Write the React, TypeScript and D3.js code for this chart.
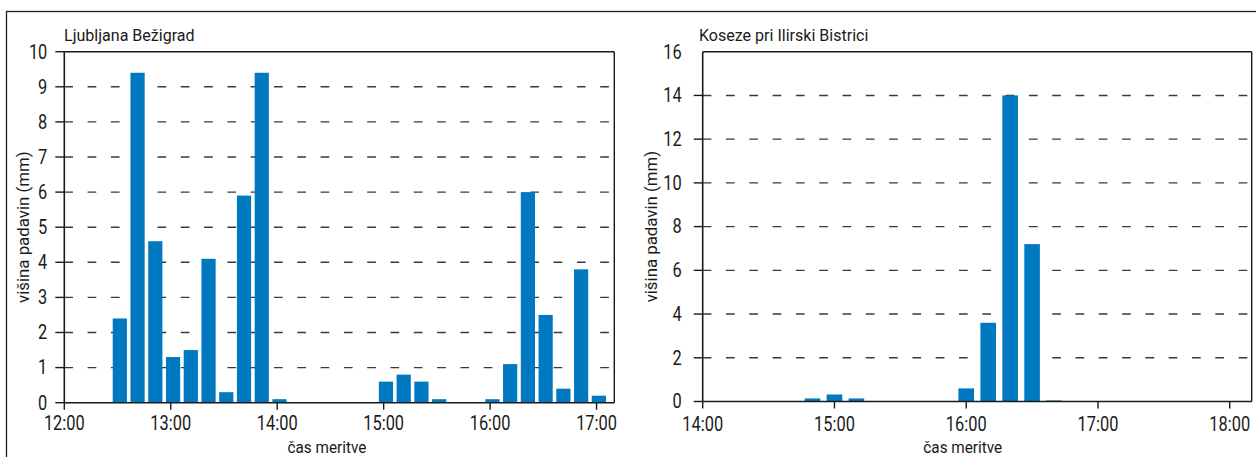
import React from 'react';
import * as d3 from 'd3';

// ---- data ----
const leftTitle = 'Ljubljana Bežigrad';
const rightTitle = 'Koseze pri Ilirski Bistrici';
const yAxisTitle = 'višina padavin (mm)';
const xAxisTitle = 'čas meritve';

const leftTimes = ['12:30', '12:40', '12:50', '13:00', '13:10', '13:20', '13:30', '13:40', '13:50', '14:00',
  '14:10', '14:20', '14:30', '14:40', '14:50', '15:00', '15:10', '15:20', '15:30', '15:40', '15:50',
  '16:00', '16:10', '16:20', '16:30', '16:40', '16:50', '17:00'];
const leftValues = [2.4, 9.4, 4.6, 1.3, 1.5, 4.1, 0.3, 5.9, 9.4, 0.1,
  0, 0, 0, 0, 0, 0.6, 0.8, 0.6, 0.1, 0, 0,
  0.1, 1.1, 6.0, 2.5, 0.4, 3.8, 0.2];
const leftYTicks = [0, 1, 2, 3, 4, 5, 6, 7, 8, 9, 10];
const leftXTicks = ['12:00', '13:00', '14:00', '15:00', '16:00', '17:00'];
const leftXDomain = ['12:00', '17:10'];

const rightTimes = ['14:50', '15:00', '15:10', '15:20', '15:30', '15:40', '15:50',
  '16:00', '16:10', '16:20', '16:30', '16:40'];
const rightValues = [0.14, 0.32, 0.14, 0, 0, 0, 0, 0.6, 3.6, 14.0, 7.2, 0.05];
const rightYTicks = [0, 2, 4, 6, 8, 10, 12, 14, 16];
const rightXTicks = ['14:00', '15:00', '16:00', '17:00', '18:00'];
const rightXDomain = ['14:00', '18:10'];

const FONT = "Roboto, 'Liberation Sans', sans-serif";
const BAR = '#0079c1';
const INK = '#1a1a1a';

const toMin = (s: string) => {
  const [h, m] = s.split(':').map(Number);
  return h * 60 + m;
};

function T(props: { x: number; y: number; size: number; sx: number; anchor?: string; rotate?: boolean; children: any }) {
  const tr = `translate(${props.x},${props.y})${props.rotate ? ' rotate(-90)' : ''} scale(${props.sx},1)`;
  return (
    <text transform={tr} textAnchor={props.anchor || 'start'} fontSize={props.size} fill={INK}>
      {props.children}
    </text>
  );
}

type PanelProps = {
  title: string;
  times: string[];
  values: number[];
  yTicks: number[];
  xTicks: string[];
  xDomain: string[];
  box: { x0: number; x1: number; y0: number; y1: number };
  barWidth: number;
  barOffset: number;
  labelGap: number;
  topTick: boolean;
  yTitleX: number;
  titleX: number;
  xLabelDy: number;
};

function Panel(p: PanelProps) {
  const { x0, x1, y0, y1 } = p.box;
  const xs = d3.scaleLinear().domain([toMin(p.xDomain[0]), toMin(p.xDomain[1])]).range([x0, x1]);
  const yMax = p.yTicks[p.yTicks.length - 1];
  const ys = d3.scaleLinear().domain([0, yMax]).range([y1, y0]);
  const tickMid = (xs(toMin(p.xTicks[0])) + xs(toMin(p.xTicks[p.xTicks.length - 1]))) / 2 - 3.5;
  return (
    <g>
      {/* gridlines */}
      {p.yTicks.filter((t) => t !== 0 && t !== yMax).map((t) => (
        <line key={'g' + t} x1={x0} x2={x1} y1={ys(t)} y2={ys(t)} stroke="#3a3a3a" strokeWidth={1.4}
          strokeDasharray="8.7 14.6" />
      ))}
      {/* bars */}
      {p.times.map((t, i) => {
        const v = p.values[i];
        if (!v) return null;
        const cx = xs(toMin(t)) + p.barOffset;
        return (
          <rect key={'b' + t} x={cx - p.barWidth / 2} y={ys(v)} width={p.barWidth} height={ys(0) - ys(v)} fill={BAR} />
        );
      })}
      {/* frame */}
      <line x1={x0} x2={x1} y1={y0} y2={y0} stroke={INK} strokeWidth={1.4} />
      <line x1={x1} x2={x1} y1={y0} y2={y1} stroke={INK} strokeWidth={1.4} />
      <line x1={x0} x2={x0} y1={y0} y2={y1} stroke={INK} strokeWidth={1.6} />
      <line x1={x0} x2={x1} y1={y1} y2={y1} stroke={INK} strokeWidth={1.6} />
      {/* y ticks */}
      {p.yTicks.map((t) => (
        <g key={'y' + t}>
          {(p.topTick || t !== yMax) && (
            <line x1={x0 - 9} x2={x0} y1={ys(t)} y2={ys(t)} stroke={INK} strokeWidth={1.4} />
          )}
          <T x={x0 - p.labelGap} y={ys(t) + 6.8} size={20} sx={0.82} anchor="end">{t}</T>
        </g>
      ))}
      {/* x ticks */}
      {p.xTicks.map((t) => (
        <g key={'x' + t}>
          <line x1={xs(toMin(t))} x2={xs(toMin(t))} y1={y1} y2={y1 + 7} stroke={INK} strokeWidth={1.4} />
          <T x={xs(toMin(t))} y={y1 + p.xLabelDy} size={20} sx={0.82} anchor="middle">{t}</T>
        </g>
      ))}
      {/* titles */}
      <T x={p.titleX} y={40.5} size={17} sx={0.945}>{p.title}</T>
      <T x={tickMid} y={452.5} size={17} sx={0.9} anchor="middle">{xAxisTitle}</T>
      <T x={p.yTitleX} y={(y0 + y1) / 2} size={17} sx={0.99} anchor="middle" rotate>{yAxisTitle}</T>
    </g>
  );
}

export default function App() {
  return (
    <svg width={1256} height={457} style={{ position: 'absolute', left: 0, top: 0, background: '#fff' }}
      fontFamily={FONT}>
      <rect x={0} y={0} width={1256} height={457} fill="#fff" />
      <rect x={6.5} y={11.5} width={1400} height={600} fill="none" stroke="#222" strokeWidth={1.3} />
      <Panel title={leftTitle} times={leftTimes} values={leftValues} yTicks={leftYTicks} xTicks={leftXTicks}
        xDomain={leftXDomain} box={{ x0: 64.3, x1: 614.3, y0: 51.7, y1: 402.7 }} barWidth={14.2} barOffset={2.3}
        labelGap={17} topTick={true} yTitleX={28.5} titleX={64} xLabelDy={27.5} />
      <Panel title={rightTitle} times={rightTimes} values={rightValues} yTicks={rightYTicks} xTicks={rightXTicks}
        xDomain={rightXDomain} box={{ x0: 702.7, x1: 1251.7, y0: 51.7, y1: 401.5 }} barWidth={15.6} barOffset={0}
        labelGap={21} topTick={false} yTitleX={657} titleX={699} xLabelDy={29.5} />
    </svg>
  );
}
